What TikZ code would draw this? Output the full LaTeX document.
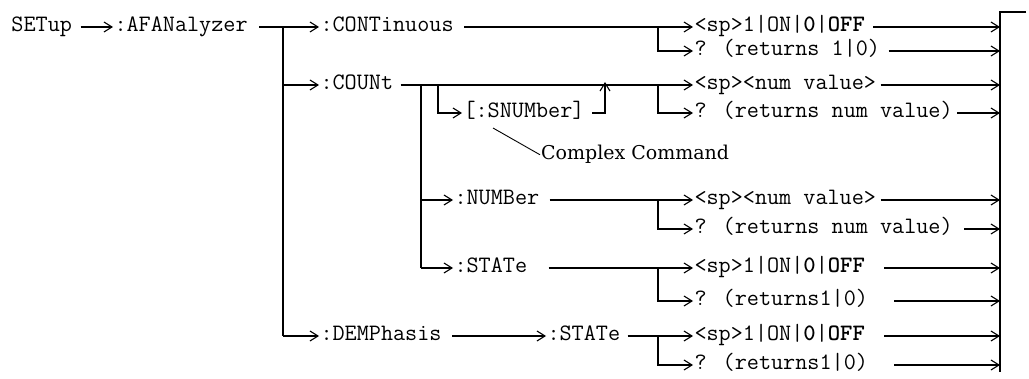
\documentclass[tikz,border=0pt]{standalone}
\usepackage{fontspec}
\newfontfamily\serf{DejaVu Serif}
\usetikzlibrary{arrows.meta}
\begin{document}
\begin{tikzpicture}[x=1pt,y=-1pt,
  cmd/.style={anchor=west,inner sep=0pt,outer sep=1.5pt,text height=10pt,text depth=0pt,
    font=\ttfamily\fontsize{23.5}{26}\selectfont},
  note/.style={anchor=base west,inner sep=1pt,font=\serf\fontsize{19}{22}\selectfont},
  ln/.style={line width=1.1pt},
  arr/.style={ln,-{Straight Barb[length=8pt,width=10pt,line width=1.1pt]}},
  leader/.style={line width=0.9pt},
]
\useasboundingbox (0,0) rectangle (1029,379);
% nodes
\node[cmd] (setup)  at (10,27)   {SETup};
\node[cmd] (afan)   at (113,27)  {:AFANalyzer};
\node[cmd] (cont)   at (319,27)  {:CONTinuous};
\node[cmd] (cont1)  at (693,27)  {<sp>1|ON|\textbf{0}|\textbf{OFF}};
\node[cmd] (cont2)  at (693,51)  {? (returns 1|0)};
\node[cmd] (count)  at (319,85)  {:COUNt};
\node[cmd] (snum)   at (462,113) {[:SNUMber]};
\node[cmd] (count1) at (693,85)  {<sp><num value>};
\node[cmd] (count2) at (693,113) {? (returns num value)};
\node[note] (cc)    at (540,160) {Complex Command};
\node[cmd] (number) at (453,200) {:NUMBer};
\node[cmd] (num1)   at (693,200) {<sp><num value>};
\node[cmd] (num2)   at (693,229) {? (returns num value)};
\node[cmd] (state)  at (453,268) {:STATe};
\node[cmd] (st1)    at (693,268) {<sp>1|ON|\textbf{0}|\textbf{OFF}};
\node[cmd] (st2)    at (693,301) {? (returns1|0)};
\node[cmd] (demph)  at (319,336) {:DEMPhasis};
\node[cmd] (dstate) at (546,336) {:STATe};
\node[cmd] (ds1)    at (693,336) {<sp>1|ON|\textbf{0}|\textbf{OFF}};
\node[cmd] (ds2)    at (693,365) {? (returns1|0)};
% helper coordinates
\coordinate (barT) at (1000,12);
\coordinate (barB) at (1000,372);
\coordinate (tick) at (1026,12);
\coordinate (s1) at (283,0);
\coordinate (c1) at (421,0);
\coordinate (b1) at (438,0);
\coordinate (up) at (605,0);
\coordinate (br) at (658,0);
\coordinate (ldr) at (493,128);
% top level
\draw[arr,shorten <=7pt] (setup.east) -- (afan.west);
\draw[arr,shorten <=10pt] (afan.east) -- (cont.west);
\draw[ln] (afan.east -| s1) -- (demph.west -| s1);
\draw[arr] (count.west -| s1) -- (count.west);
\draw[arr] (demph.west -| s1) -- (demph.west);
% CONTinuous
\draw[arr,shorten <=9pt] (cont.east) -- (cont1.west);
\draw[arr] (cont.east -| br) |- (cont2.west);
\draw[arr,shorten <=7pt] (cont1.east) -- (cont1.east -| barT);
\draw[arr,shorten <=7pt] (cont2.east) -- (cont2.east -| barT);
% COUNt
\draw[arr,shorten <=6pt] (count.east) -- (count1.west);
\draw[ln] (count.east -| c1) -- (state.west -| c1);
\draw[arr] (number.west -| c1) -- (number.west);
\draw[arr] (state.west -| c1) -- (state.west);
\draw[arr] (count.east -| b1) |- (snum.west);
\draw[arr,shorten <=6pt] (snum.east) -| ([yshift=3pt]count.east -| up);
\draw[arr] (count.east -| br) |- (count2.west);
\draw[arr,shorten <=3pt] (count1.east) -- (count1.east -| barT);
\draw[arr,shorten <=3pt] (count2.east) -- (count2.east -| barT);
\draw[leader] (ldr) -- (cc.west);
% NUMBer
\draw[arr,shorten <=9pt] (number.east) -- (num1.west);
\draw[arr] (number.east -| br) |- (num2.west);
\draw[arr,shorten <=3pt] (num1.east) -- (num1.east -| barT);
\draw[arr,shorten <=10pt] (num2.east) -- (num2.east -| barT);
% STATe
\draw[arr,shorten <=20pt] (state.east) -- (st1.west);
\draw[arr] (state.east -| br) |- (st2.west);
\draw[arr,shorten <=18pt] (st1.east) -- (st1.east -| barT);
\draw[arr,shorten <=25pt] (st2.east) -- (st2.east -| barT);
% DEMPhasis
\draw[arr,shorten <=9pt] (demph.east) -- (dstate.west);
\draw[arr,shorten <=6pt] (dstate.east) -- (ds1.west);
\draw[arr] (dstate.east -| br) |- (ds2.west);
\draw[arr,shorten <=18pt] (ds1.east) -- (ds1.east -| barT);
\draw[arr,shorten <=25pt] (ds2.east) -- (ds2.east -| barT);
% right bar
\draw[ln] (tick) -- (barT) -- (barB);
\end{tikzpicture}
\end{document}
